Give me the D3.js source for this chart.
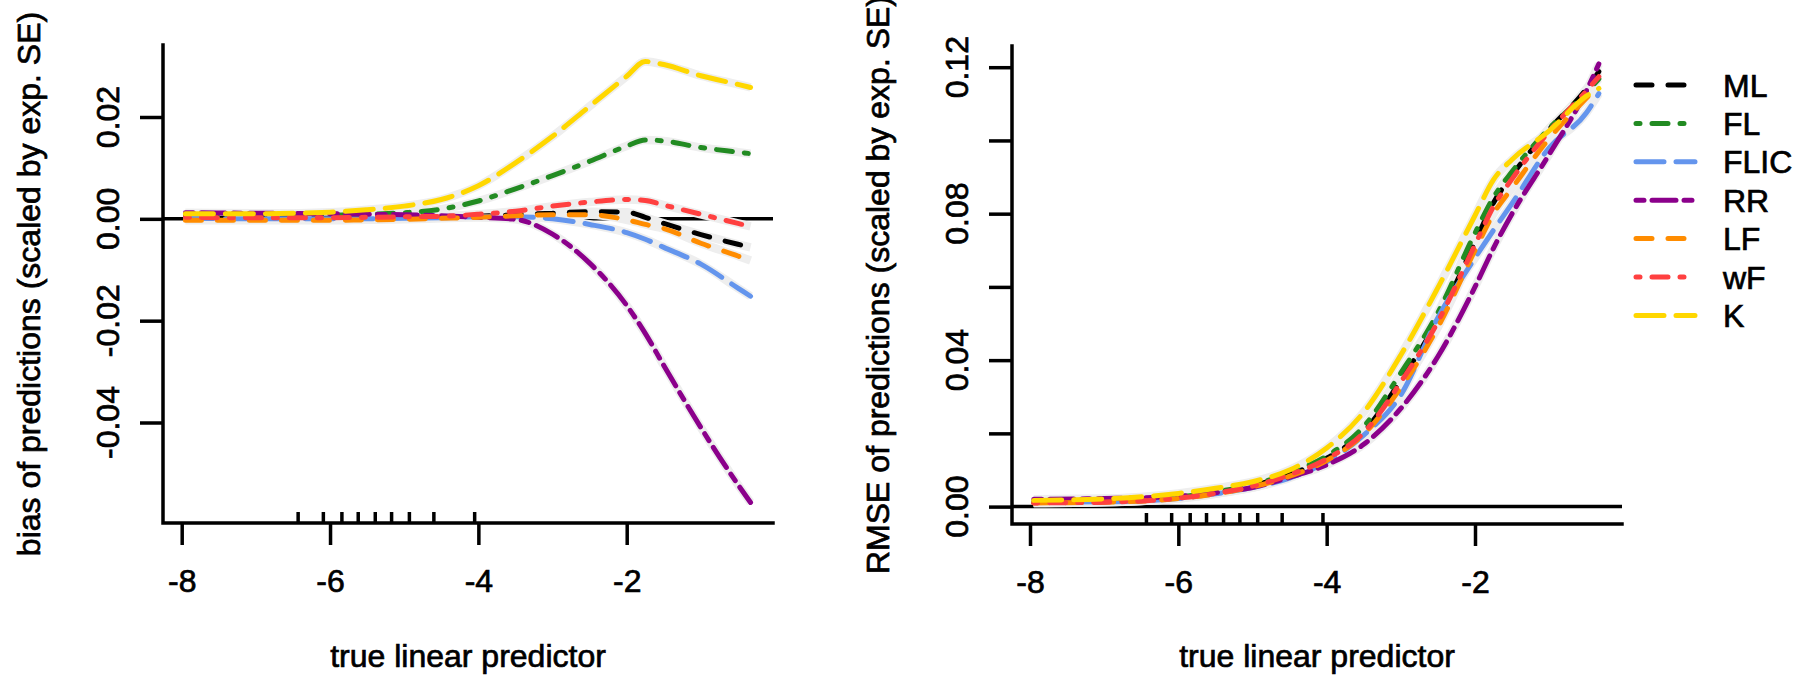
<!DOCTYPE html>
<html><head><meta charset="utf-8">
<script src="https://cdn.jsdelivr.net/npm/d3@7"></script>
<style>
body{margin:0;background:#fff}
svg text{font-family:"Liberation Sans",Arial,sans-serif;fill:#000;stroke:#000;stroke-width:0.7px}
</style>
</head><body>
<svg id="chart" width="1802" height="678"></svg>
<script>
// ---------- data ----------
const series = ["ML","FL","FLIC","RR","LF","wF","K"];
const colors = ["#000000","#228B22","#6495ED","#8B008B","#FF8C00","#FF4040","#FFD700"];
const dashes = ["16 16","4 12 16 12","28 12","8 8 24 8","16 16","4 12 16 12","28 12"];

const xGrid = [-7.95,-7,-6,-5.5,-5,-4.5,-4,-3.5,-3,-2.5,-2,-1.75,-1.5,-1,-0.5,-0.33];

// bias of predictions
const biasML   = [0.0002,0.0001,0.0001,0.0001,0.0002,0.0003,0.0005,0.0008,0.0011,0.0014,0.0013,0.0003,-0.0009,-0.0031,-0.0050,-0.0056];
const biasFL   = [0.0005,0.0006,0.0007,0.0009,0.0012,0.0019,0.0035,0.0059,0.0085,0.0113,0.0143,0.0155,0.0153,0.0140,0.0131,0.0128];
const biasFLIC = [0.0001,0.0000,0.0000,0.0000,0.0001,0.0002,0.0004,0.0004,0.0000,-0.0011,-0.0027,-0.0040,-0.0056,-0.0089,-0.0136,-0.0152];
const biasRR   = [0.0012,0.0011,0.0010,0.0009,0.0008,0.0006,0.0003,-0.0001,-0.0030,-0.0087,-0.0170,-0.0225,-0.0288,-0.0410,-0.0522,-0.0557];
const biasLF   = [-0.0003,-0.0003,-0.0003,-0.0002,-0.0001,0.0001,0.0003,0.0006,0.0008,0.0008,-0.0002,-0.0011,-0.0019,-0.0048,-0.0073,-0.0082];
const biasWF   = [0.0003,0.0002,0.0002,0.0003,0.0004,0.0005,0.0009,0.0015,0.0025,0.0033,0.0038,0.0036,0.0027,0.0009,-0.0009,-0.0015];
const biasK    = [0.0010,0.0010,0.0013,0.0018,0.0025,0.0038,0.0065,0.0110,0.0162,0.0221,0.0280,0.0309,0.0303,0.0281,0.0264,0.0258];

// RMSE of predictions
const rmseML   = [0.0011,0.0013,0.0024,0.0037,0.0057,0.0088,0.0132,0.0205,0.0345,0.0510,0.0722,0.0830,0.0905,0.1030,0.1140,0.1188];
const rmseFL   = [0.0012,0.0014,0.0026,0.0040,0.0060,0.0092,0.0138,0.0219,0.0365,0.0530,0.0747,0.0845,0.0915,0.1033,0.1130,0.1168];
const rmseFLIC = [0.0012,0.0013,0.0022,0.0035,0.0052,0.0078,0.0122,0.0195,0.0305,0.0516,0.0679,0.0755,0.0828,0.0980,0.1075,0.1128];
const rmseRR   = [0.0020,0.0022,0.0028,0.0038,0.0052,0.0080,0.0114,0.0170,0.0268,0.0410,0.0600,0.0706,0.0800,0.0962,0.1135,0.1209];
const rmseLF   = [0.0010,0.0012,0.0022,0.0035,0.0054,0.0083,0.0126,0.0198,0.0325,0.0490,0.0700,0.0800,0.0870,0.1005,0.1115,0.1150];
const rmseWF   = [0.0010,0.0012,0.0023,0.0036,0.0056,0.0087,0.0130,0.0202,0.0340,0.0505,0.0715,0.0820,0.0895,0.1025,0.1135,0.1174];
const rmseK    = [0.0017,0.0021,0.0036,0.0050,0.0068,0.0100,0.0160,0.0258,0.0414,0.0598,0.0795,0.0893,0.0948,0.1026,0.1121,0.1142];

const rugTicks = [-6.43,-6.09,-5.84,-5.62,-5.39,-5.17,-4.93,-4.60,-4.05];
const xTicks = [-8,-6,-4,-2];
const xTickLabels = ["-8","-6","-4","-2"];
const biasTicks = [-0.04,-0.02,0,0.02];
const biasTickLabels = ["-0.04","-0.02","0.00","0.02"];
const rmseTicks = [0,0.02,0.04,0.06,0.08,0.10,0.12];
const rmseTickLabels = ["0.00","","0.04","","0.08","","0.12"];

const biasData = [biasML,biasFL,biasFLIC,biasRR,biasLF,biasWF,biasK];
const rmseData = [rmseML,rmseFL,rmseFLIC,rmseRR,rmseLF,rmseWF,rmseK];

// ---------- drawing ----------
const svg = d3.select("#chart");
const FS = 32;

function panel(cfg){
  const g = svg.append("g");
  const x = d3.scaleLinear().domain([-8,-2]).range(cfg.xr);
  const y = d3.scaleLinear().domain(cfg.yd).range(cfg.yr);
  const L = cfg.box[0], T = cfg.box[1], R = cfg.box[2], B = cfg.box[3];

  // zero line
  g.append("line").attr("x1",L).attr("x2",R).attr("y1",y(0)).attr("y2",y(0))
    .attr("stroke","#000").attr("stroke-width",3.5);

  // curves
  const line = d3.line().x((d,i)=>x(xGrid[i])).y(d=>y(d)).curve(d3.curveMonotoneX);
  cfg.data.forEach(arr=>{
    g.append("path").attr("d",line(arr)).attr("fill","none")
      .attr("stroke","#eeeeee").attr("stroke-width",8.5).attr("stroke-linejoin","round");
  });
  cfg.data.forEach((arr,k)=>{
    g.append("path").attr("d",line(arr)).attr("fill","none")
      .attr("stroke",colors[k]).attr("stroke-width",5)
      .attr("stroke-dasharray",dashes[k]).attr("stroke-linecap","round").attr("stroke-linejoin","round");
  });

  // L-shaped box
  g.append("path").attr("d",`M${L},${T}V${B}H${R}`).attr("fill","none")
    .attr("stroke","#000").attr("stroke-width",3.5).attr("stroke-linecap","square");

  // x axis ticks and labels
  const xa = g.append("g").attr("transform",`translate(0,${B})`)
    .call(d3.axisBottom(x).tickValues(xTicks).tickSize(22).tickFormat((d,i)=>xTickLabels[i]));
  xa.select(".domain").remove();
  xa.selectAll(".tick line").attr("stroke","#000").attr("stroke-width",3.5);
  xa.selectAll(".tick text").attr("font-size",FS).attr("font-family","Liberation Sans, Arial, sans-serif")
    .attr("fill","#000").attr("y",69).attr("dy",0);

  // rug
  g.selectAll(".rug").data(rugTicks).enter().append("line")
    .attr("x1",d=>x(d)).attr("x2",d=>x(d)).attr("y1",B).attr("y2",B-11)
    .attr("stroke","#000").attr("stroke-width",3.5);

  // y axis ticks + rotated labels
  const ya = g.append("g").attr("transform",`translate(${L},0)`)
    .call(d3.axisLeft(y).tickValues(cfg.yt).tickSize(23).tickFormat(""));
  ya.select(".domain").remove();
  ya.selectAll(".tick line").attr("stroke","#000").attr("stroke-width",3.5);
  cfg.yt.forEach((v,i)=>{
    if(!cfg.ytl[i]) return;
    g.append("text").attr("transform",`translate(${L-44},${y(v)}) rotate(-90)`)
      .attr("text-anchor","middle").attr("font-size",FS).text(cfg.ytl[i]);
  });

  // titles
  g.append("text").attr("x",(L+R)/2).attr("y",667).attr("text-anchor","middle")
    .attr("font-size",FS).text("true linear predictor");
  g.append("text").attr("transform",`translate(${L-123},${(T+B)/2}) rotate(-90)`)
    .attr("text-anchor","middle").attr("font-size",FS).text(cfg.ytitle);
}

panel({
  xr:[181.7,626.7], yd:[-0.04,0.02], yr:[422.5,117], box:[163,45,773,523],
  data:biasData, yt:biasTicks, ytl:biasTickLabels,
  ytitle:"bias of predictions (scaled by exp. SE)"
});
panel({
  xr:[1030,1475], yd:[0,0.12], yr:[506.6,67.2], box:[1012,46,1622,524],
  data:rmseData, yt:rmseTicks, ytl:rmseTickLabels,
  ytitle:"RMSE of predictions (scaled by exp. SE)"
});

// legend
const lg = svg.append("g");
series.forEach((s,i)=>{
  const yy = 85 + i*38.4;
  lg.append("line").attr("x1",1636).attr("x2",1695).attr("y1",yy).attr("y2",yy)
    .attr("stroke",colors[i]).attr("stroke-width",5).attr("stroke-dasharray",dashes[i])
    .attr("stroke-linecap","round");
  lg.append("text").attr("x",1723).attr("y",yy).attr("dy","0.36em")
    .attr("font-size",FS).text(s);
});
</script>
</body></html>
